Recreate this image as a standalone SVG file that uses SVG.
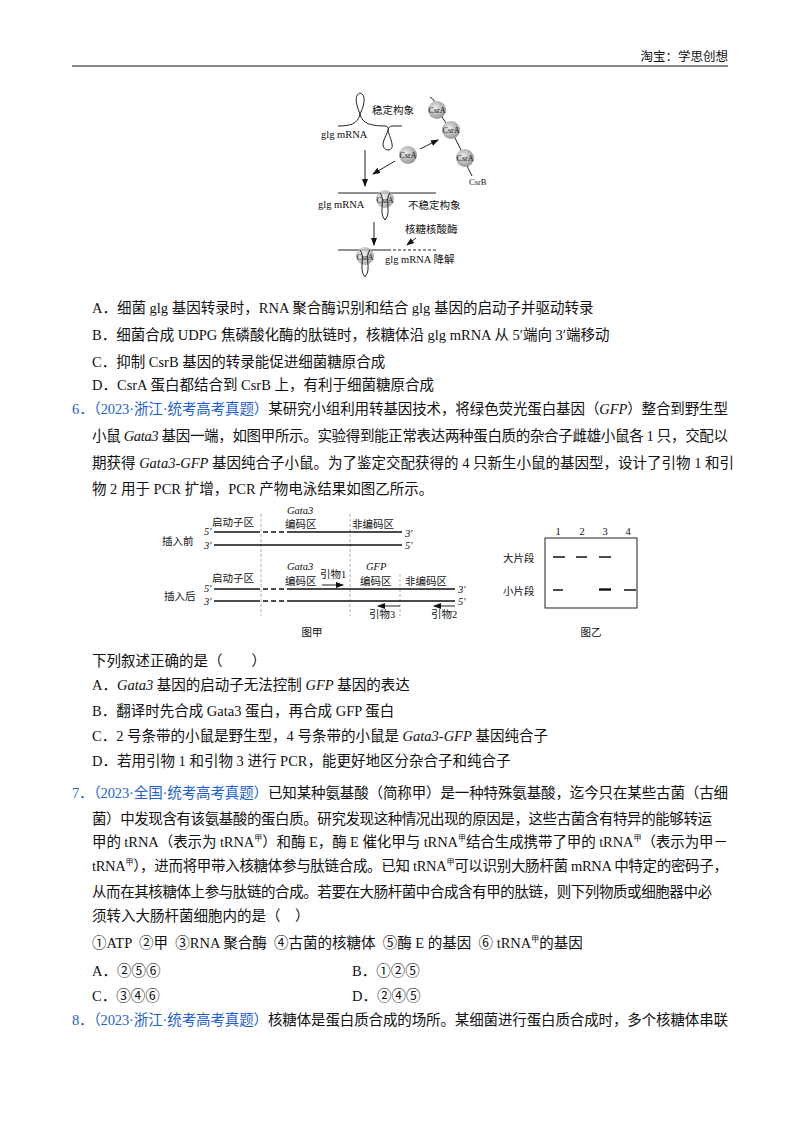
<svg xmlns="http://www.w3.org/2000/svg" width="800" height="1132" viewBox="0 0 800 1132">
<defs>
<style>
text{font-family:"Liberation Serif","Noto Sans CJK SC",serif;fill:#111}
.t{font-size:14.5px}
.s{font-size:10.5px}
.b{fill:#1e5fd0}
.ln{stroke:#111;stroke-width:1.6;fill:none}
.th{stroke:#222;stroke-width:1;fill:none}
.vd{stroke:#999;stroke-width:0.8;stroke-dasharray:3,2}
.band{stroke:#111;stroke-width:1.6}
</style>
<radialGradient id="g" cx="0.4" cy="0.4" r="0.6"><stop offset="0" stop-color="#eee"/><stop offset="1" stop-color="#999"/></radialGradient>
<marker id="a" markerWidth="8" markerHeight="8" refX="7" refY="4" orient="auto" markerUnits="userSpaceOnUse"><path d="M0,1 L8,4 L0,7 Z" fill="#111"/></marker>
</defs>
<rect width="800" height="1132" fill="#fff"/>
<text x="728" y="61" class="t" text-anchor="end" style="font-size:12.5px">淘宝：学思创想</text>
<line x1="72" y1="66" x2="728" y2="66" stroke="#111" stroke-width="1.2"/>

<g id="fig1">
<path class="th" d="M338,126 C350,126 358,124 360,114 C354,100 356,94 360,93 C365,94 366,102 360,114 C362,124 372,126 386,126 C392,128 384,136 383,144 C383,152 394,152 392,144 C391,136 384,128 392,126 L402,126"/>
<text x="372" y="114" class="s">稳定构象</text>
<text x="321" y="138" class="s">glg  mRNA</text>
<line x1="365" y1="150" x2="365" y2="186" class="th" marker-end="url(#a)"/>
<path class="th" d="M430,97 Q436,100 437,110 L451,130 L465,158 Q468,170 472,176"/>
<circle cx="437" cy="110" r="9" fill="url(#g)"/><text x="437" y="113" class="s" text-anchor="middle" style="font-size:8px">CsrA</text>
<circle cx="451" cy="130" r="9" fill="url(#g)"/><text x="451" y="133" class="s" text-anchor="middle" style="font-size:8px">CsrA</text>
<circle cx="465" cy="158" r="9" fill="url(#g)"/><text x="465" y="161" class="s" text-anchor="middle" style="font-size:8px">CsrA</text>
<text x="469" y="185" class="s" style="font-size:8.5px">CsrB</text>
<line x1="395" y1="161" x2="373" y2="174" class="th" marker-end="url(#a)"/>
<line x1="420" y1="149" x2="438" y2="140" class="th" marker-end="url(#a)"/>
<circle cx="408" cy="155" r="9" fill="url(#g)"/><text x="408" y="158" class="s" text-anchor="middle" style="font-size:8px">CsrA</text>
<path class="th" d="M338,193 L436,193"/>
<circle cx="385" cy="199" r="9" fill="url(#g)" opacity="0.8"/>
<path class="th" d="M380,193 C386,200 378,212 385,220 C392,212 384,200 390,193"/>
<text x="385" y="203" class="s" text-anchor="middle" style="font-size:8px">CsrA</text>
<text x="318" y="208" class="s">glg  mRNA</text>
<text x="408" y="209" class="s">不稳定构象</text>
<line x1="374" y1="222" x2="374" y2="245" class="th" marker-end="url(#a)"/>
<text x="405" y="233" class="s">核糖核酸酶</text>
<line x1="416" y1="238" x2="407" y2="245" class="th" marker-end="url(#a)"/>
<path class="th" d="M338,250 L388,250"/>
<line x1="388" y1="250" x2="438" y2="250" class="th" stroke-dasharray="3,2"/>
<circle cx="365" cy="256" r="9" fill="url(#g)" opacity="0.8"/>
<path class="th" d="M360,250 C366,257 358,269 365,277 C372,269 364,257 370,250"/>
<text x="365" y="260" class="s" text-anchor="middle" style="font-size:8px">CsrA</text>
<text x="385" y="263" class="s">glg  mRNA 降解</text>
</g>

<g id="q5opts">
<text x="92" y="313" class="t">A．细菌 glg 基因转录时，RNA 聚合酶识别和结合 glg 基因的启动子并驱动转录</text>
<text x="92" y="340" class="t">B．细菌合成 UDPG 焦磷酸化酶的肽链时，核糖体沿 glg mRNA 从 5′端向 3′端移动</text>
<text x="92" y="367" class="t">C．抑制 CsrB 基因的转录能促进细菌糖原合成</text>
<text x="92" y="390" class="t">D．CsrA 蛋白都结合到 CsrB 上，有利于细菌糖原合成</text>
</g>

<g id="q6">
<text x="72" y="414" class="t" textLength="656"><tspan class="b">6．（2023·浙江·统考高考真题）</tspan>某研究小组利用转基因技术，将绿色荧光蛋白基因（<tspan font-style="italic">GFP</tspan>）整合到野生型</text>
<text x="92" y="441" class="t" textLength="636">小鼠 <tspan font-style="italic">Gata3</tspan> 基因一端，如图甲所示。实验得到能正常表达两种蛋白质的杂合子雌雄小鼠各 1 只，交配以</text>
<text x="92" y="468" class="t">期获得 <tspan font-style="italic">Gata3-GFP</tspan> 基因纯合子小鼠。为了鉴定交配获得的 4 只新生小鼠的基因型，设计了引物 1 和引</text>
<text x="92" y="494" class="t">物 2 用于 PCR 扩增，PCR 产物电泳结果如图乙所示。</text>
</g>

<g id="figA">
<line x1="261" y1="514" x2="261" y2="616" class="vd"/>
<line x1="350" y1="514" x2="350" y2="616" class="vd"/>
<line x1="400" y1="574" x2="400" y2="616" class="vd"/>
<text x="212" y="526" class="s">启动子区</text>
<text x="287" y="514" class="s" font-style="italic">Gata3</text>
<text x="285" y="528" class="s">编码区</text>
<text x="352" y="528" class="s">非编码区</text>
<text x="162" y="545" class="s">插入前</text>
<text x="204" y="535" class="s" font-style="italic">5′</text>
<text x="204" y="549" class="s" font-style="italic">3′</text>
<path class="ln" d="M214,532 H260 M290,532 H402 M214,545 H402"/>
<line x1="263" y1="532" x2="290" y2="532" class="ln" stroke-dasharray="5,3"/>
<text x="405" y="537" class="s" font-style="italic">3′</text>
<text x="405" y="549" class="s" font-style="italic">5′</text>
<text x="212" y="582" class="s">启动子区</text>
<text x="287" y="570" class="s" font-style="italic">Gata3</text>
<text x="285" y="585" class="s">编码区</text>
<text x="320" y="578" class="s">引物1</text>
<line x1="322" y1="585" x2="343" y2="585" class="th" marker-end="url(#a)"/>
<text x="366" y="570" class="s" font-style="italic">GFP</text>
<text x="360" y="585" class="s">编码区</text>
<text x="405" y="585" class="s">非编码区</text>
<text x="164" y="600" class="s">插入后</text>
<text x="204" y="592" class="s" font-style="italic">5′</text>
<text x="204" y="605" class="s" font-style="italic">3′</text>
<path class="ln" d="M214,589 H260 M290,589 H455 M214,601 H260 M290,601 H455"/>
<path class="ln" d="M263,589 H290 M263,601 H290" stroke-dasharray="5,3"/>
<text x="458" y="593" class="s" font-style="italic">3′</text>
<text x="458" y="605" class="s" font-style="italic">5′</text>
<line x1="400" y1="606" x2="378" y2="606" class="th" marker-end="url(#a)"/>
<text x="369" y="618" class="s">引物3</text>
<line x1="455" y1="606" x2="434" y2="606" class="th" marker-end="url(#a)"/>
<text x="431" y="618" class="s">引物2</text>
<text x="312" y="636" class="s" text-anchor="middle">图甲</text>
</g>

<g id="figB">
<rect x="545" y="538" width="92" height="70" fill="none" stroke="#222" stroke-width="1"/>
<text x="558" y="535" class="s" text-anchor="middle">1</text>
<text x="582" y="535" class="s" text-anchor="middle">2</text>
<text x="605" y="535" class="s" text-anchor="middle">3</text>
<text x="628" y="535" class="s" text-anchor="middle">4</text>
<text x="503" y="562" class="s">大片段</text>
<text x="503" y="595" class="s">小片段</text>
<path class="band" d="M553,557 H565 M576,557 H587 M599,557 H611 M553,590 H563 M624,590 H636"/>
<path stroke="#111" stroke-width="2.4" d="M599,589.5 H611"/>
<text x="591" y="636" class="s" text-anchor="middle">图乙</text>
</g>

<g id="q6opts">
<text x="92" y="666" class="t">下列叙述正确的是（　　）</text>
<text x="92" y="690" class="t">A．<tspan font-style="italic">Gata3</tspan> 基因的启动子无法控制 <tspan font-style="italic">GFP</tspan> 基因的表达</text>
<text x="92" y="716" class="t">B．翻译时先合成 Gata3 蛋白，再合成 GFP 蛋白</text>
<text x="92" y="741" class="t">C．2 号条带的小鼠是野生型，4 号条带的小鼠是 <tspan font-style="italic">Gata3-GFP</tspan> 基因纯合子</text>
<text x="92" y="766" class="t">D．若用引物 1 和引物 3 进行 PCR，能更好地区分杂合子和纯合子</text>
</g>

<g id="q7">
<text x="72" y="798" class="t" textLength="656"><tspan class="b">7．（2023·全国·统考高考真题）</tspan>已知某种氨基酸（简称甲）是一种特殊氨基酸，迄今只在某些古菌（古细</text>
<text x="92" y="824" class="t" textLength="620">菌）中发现含有该氨基酸的蛋白质。研究发现这种情况出现的原因是，这些古菌含有特异的能够转运</text>
<text x="92" y="847" class="t" textLength="636">甲的 tRNA（表示为 tRNA<tspan dy="-6" style="font-size:8px">甲</tspan><tspan dy="6">）和酶 E，酶 E 催化甲与 tRNA</tspan><tspan dy="-6" style="font-size:8px">甲</tspan><tspan dy="6">结合生成携带了甲的 tRNA</tspan><tspan dy="-6" style="font-size:8px">甲</tspan><tspan dy="6">（表示为甲－</tspan></text>
<text x="92" y="871" class="t" textLength="636">tRNA<tspan dy="-6" style="font-size:8px">甲</tspan><tspan dy="6">），进而将甲带入核糖体参与肽链合成。已知 tRNA</tspan><tspan dy="-6" style="font-size:8px">甲</tspan><tspan dy="6">可以识别大肠杆菌 mRNA 中特定的密码子，</tspan></text>
<text x="92" y="897" class="t" textLength="620">从而在其核糖体上参与肽链的合成。若要在大肠杆菌中合成含有甲的肽链，则下列物质或细胞器中必</text>
<text x="92" y="921" class="t">须转入大肠杆菌细胞内的是（　）</text>
<text x="92" y="948" class="t" xml:space="preserve">①ATP  ②甲  ③RNA 聚合酶  ④古菌的核糖体  ⑤酶 E 的基因  ⑥ tRNA<tspan dy="-6" style="font-size:8px">甲</tspan><tspan dy="6">的基因</tspan></text>
<text x="92" y="976" class="t">A．②⑤⑥</text>
<text x="352" y="976" class="t">B．①②⑤</text>
<text x="92" y="1001" class="t">C．③④⑥</text>
<text x="352" y="1001" class="t">D．②④⑤</text>
</g>

<g id="q8">
<text x="72" y="1025" class="t" textLength="656"><tspan class="b">8．（2023·浙江·统考高考真题）</tspan>核糖体是蛋白质合成的场所。某细菌进行蛋白质合成时，多个核糖体串联</text>
</g>
<g id="connectors"/>
</svg>
